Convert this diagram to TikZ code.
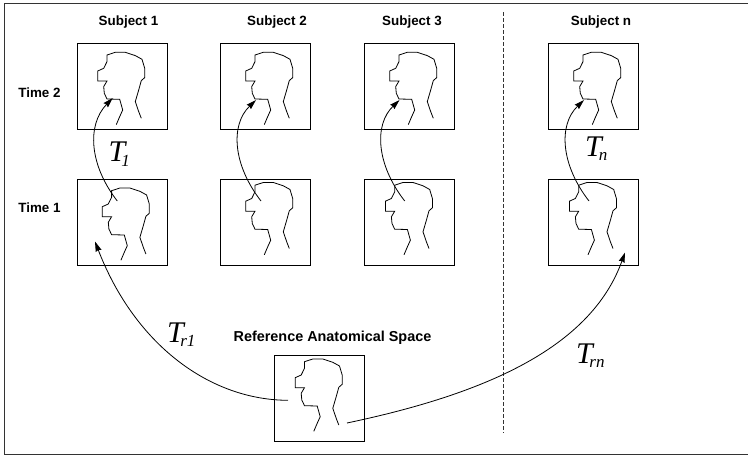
\documentclass[tikz,border=0pt]{standalone}
\usepackage{fontspec}
\setmainfont{Liberation Sans}
\newfontfamily\tfam{Liberation Serif}
\usetikzlibrary{arrows.meta}
\tikzset{
  x=1pt,y=-1pt,
  framebox/.style={draw=black,line width=1pt,minimum width=90pt,minimum height=86pt,inner sep=0pt,outer sep=0pt,anchor=north west},
  outerframe/.style={draw=black!80,line width=1pt,minimum width=750pt,minimum height=451pt,inner sep=0pt,outer sep=0pt,anchor=north west},
  headline/.style={draw=black,line width=.8pt},
  title/.style={font=\fontsize{13.4}{14}\selectfont\bfseries,anchor=base,inner sep=0pt},
  curve/.style={draw=black,line width=.8pt,-{Stealth[length=10pt,width=6pt,inset=1pt]}},
  translabel/.style={anchor=base west,inner sep=0pt},
  head/.pic={\draw[headline] (64.3,75)--(61.7,68.3)--(58.3,58.3)--(61.7,46.7)--(64.3,37.3)--(67.7,34.3)--(67.7,25)--(65,16)--(58.3,12.3)--(48.3,9)--(38.3,9)--(30,11.7)--(30,18.3)--(26.7,25)--(20.7,27.7)--(20.7,37.7)--(30,37.7)--(26.7,43.3)--(27.3,50)--(30,55.7)--(42.7,56)--(45.7,66.7)--(42.7,73.3)--(39.3,81.3);}
}
\newcommand{\tlab}[3]{{\tfam\itshape\fontsize{30}{30}\selectfont #1\kern#3\raisebox{-4.5pt}{\fontsize{17}{17}\selectfont #2}}}
\begin{document}
\begin{tikzpicture}
\useasboundingbox (0,0) rectangle (748,455);
\node[outerframe] (frame) at (4.5,3) {};
\node[title] (st1) at (128.5,26) {Subject 1};
\node[title] (st2) at (277,26) {Subject 2};
\node[title] (st3) at (412,26) {Subject 3};
\node[title] (stn) at (601,26) {Subject n};
\node[title] (time2) at (39.5,97) {Time 2};
\node[title] (time1) at (39.5,212) {Time 1};
\node[title,font=\fontsize{14.4}{15}\selectfont\bfseries] (refl) at (332.5,341.7) {Reference Anatomical Space};
% boxes
\node[framebox] (a2) at (77,43.3) {};
\node[framebox] (b2) at (220.7,43.3) {};
\node[framebox] (c2) at (364.7,43.3) {};
\node[framebox] (n2) at (548.7,43.3) {};
\node[framebox] (a1) at (77,179) {};
\node[framebox] (b1) at (220.7,179) {};
\node[framebox] (c1) at (364.7,179) {};
\node[framebox] (n1) at (548.7,179) {};
\node[framebox] (ref) at (274.5,355) {};
% heads
\pic at (a2.north west) {head};
\pic[xshift=4.3pt] at (b2.north west) {head};
\pic[xshift=4.3pt] at (c2.north west) {head};
\pic[xshift=4.3pt] at (n2.north west) {head};
\pic[xshift=4.6pt] at (a1.north west) {head};
\pic[xshift=4.3pt,yshift=5.5pt] at (b1.north west) {head};
\pic[yshift=5.5pt] at (c1.north west) {head};
\pic[yshift=5.5pt] at (n1.north west) {head};
\pic[yshift=5pt] at (ref.north west) {head};
% dashed divider
\coordinate (dtop) at (503.7,12);
\coordinate (dbot) at (503.7,433);
\draw[black!80,line width=1pt,dash pattern=on 3.5pt off 2.5pt] (dtop)--(dbot);
% arrow ends
\coordinate (sa) at (117.3,201); \coordinate (ea) at (112.7,98);
\coordinate (sb) at (261,201); \coordinate (eb) at (256,100);
\coordinate (sc) at (404.7,201); \coordinate (ec) at (399.5,100);
\coordinate (sn) at (589,201); \coordinate (en) at (584,100);
\coordinate (sr) at (288,400.3); \coordinate (er) at (95,241.5);
\coordinate (sq) at (347,423); \coordinate (eq) at (625,252.5);
\draw[curve] (sa) .. controls +(-28,-36) and +(-26,27) .. (ea);
\draw[curve] (sb) .. controls +(-28,-36) and +(-26,25) .. (eb);
\draw[curve] (sc) .. controls +(-28,-36) and +(-26,25) .. (ec);
\draw[curve] (sn) .. controls +(-28,-36) and +(-26,25) .. (en);
\draw[curve] (sr) .. controls (210,400) and (135,345) .. (er);
\draw[curve] (sq) .. controls (480,395) and (590,350) .. (eq);
% labels
\node[translabel] (t1) at (108.5,161.7) {\tlab{T}{1}{-4pt}};
\node[translabel] (tn) at (585,156) {\tlab{T}{n}{-3pt}};
\node[translabel] (tr1) at (167,342) {\tlab{T}{r1}{-3.5pt}};
\node[translabel] (trn) at (576,363) {\tlab{T}{rn}{-3.5pt}};
\end{tikzpicture}
\end{document}
